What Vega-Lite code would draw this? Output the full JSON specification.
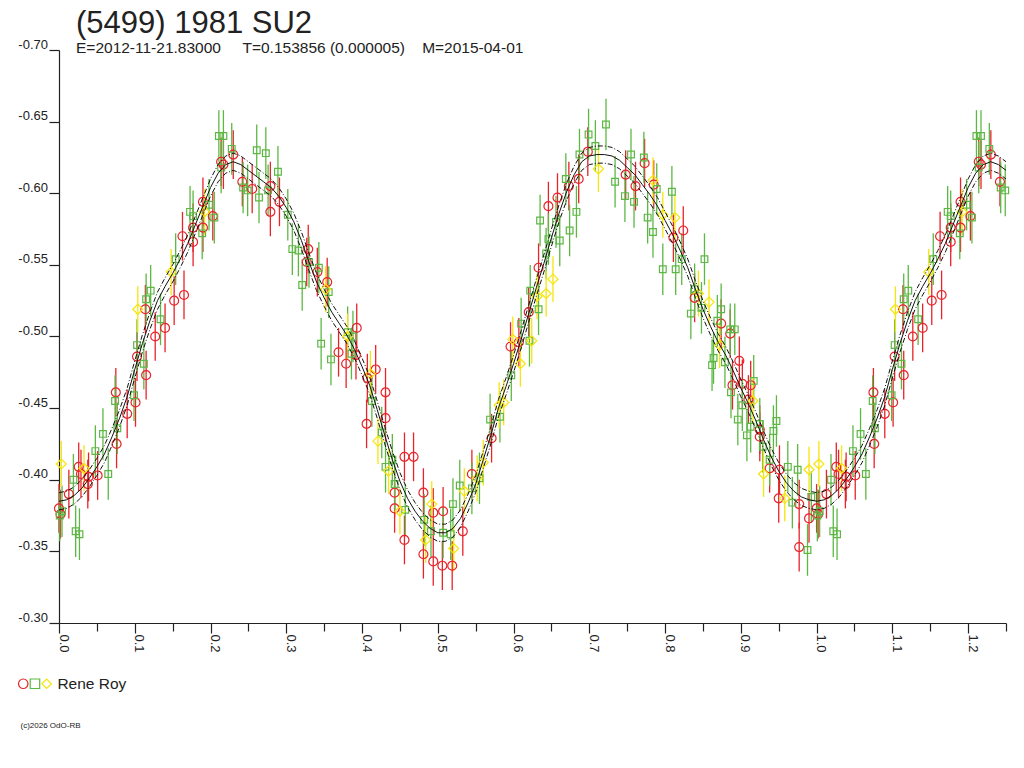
{
  "$schema": "https://vega.github.io/schema/vega-lite/v6.json",
  "autosize": "none",
  "width": 947,
  "height": 573,
  "padding": {"left": 59, "top": 50, "right": 18, "bottom": 145},
  "background": "white",
  "config": {"view": {"stroke": null}},
  "title": {
    "text": "(5499) 1981 SU2",
    "subtitle": "E=2012-11-21.83000\u00a0\u00a0\u00a0\u00a0\u00a0T=0.153856 (0.000005)\u00a0\u00a0\u00a0\u00a0M=2015-04-01",
    "anchor": "start",
    "frame": "group",
    "dx": 17,
    "offset": -19,
    "font": "Liberation Sans",
    "fontSize": 31,
    "fontWeight": "normal",
    "color": "#222222",
    "subtitleFont": "Liberation Sans",
    "subtitleFontSize": 15.5,
    "subtitleColor": "#222222",
    "subtitlePadding": 1
  },
  "datasets": {
    "pts": [
      {"p":0.103,"m":-0.486,"e":0.017,"s":"r"},{"p":0.115,"m":-0.473,"e":0.017,"s":"r"},{"p":0.075,"m":-0.461,"e":0.017,"s":"r"},{"p":0.101,"m":-0.454,"e":0.017,"s":"r"},
      {"p":0.090,"m":-0.446,"e":0.017,"s":"r"},{"p":0.076,"m":-0.425,"e":0.017,"s":"r"},{"p":0.026,"m":-0.409,"e":0.017,"s":"r"},{"p":0.051,"m":-0.403,"e":0.017,"s":"r"},
      {"p":0.039,"m":-0.402,"e":0.017,"s":"r"},{"p":0.029,"m":-0.404,"e":0.017,"s":"r"},{"p":0.038,"m":-0.397,"e":0.017,"s":"r"},{"p":0.013,"m":-0.390,"e":0.017,"s":"r"},
      {"p":0.000,"m":-0.380,"e":0.017,"s":"r"},{"p":0.002,"m":-0.376,"e":0.017,"s":"r"},{"p":0.214,"m":-0.622,"e":0.017,"s":"r"},{"p":0.217,"m":-0.620,"e":0.017,"s":"r"},
      {"p":0.230,"m":-0.627,"e":0.017,"s":"r"},{"p":0.242,"m":-0.608,"e":0.017,"s":"r"},{"p":0.255,"m":-0.603,"e":0.017,"s":"r"},{"p":0.279,"m":-0.605,"e":0.017,"s":"r"},
      {"p":0.291,"m":-0.594,"e":0.017,"s":"r"},{"p":0.279,"m":-0.587,"e":0.017,"s":"r"},{"p":0.190,"m":-0.594,"e":0.017,"s":"r"},{"p":0.203,"m":-0.584,"e":0.017,"s":"r"},
      {"p":0.177,"m":-0.576,"e":0.017,"s":"r"},{"p":0.190,"m":-0.576,"e":0.017,"s":"r"},{"p":0.177,"m":-0.566,"e":0.017,"s":"r"},{"p":0.163,"m":-0.570,"e":0.017,"s":"r"},
      {"p":0.152,"m":-0.525,"e":0.017,"s":"r"},{"p":0.165,"m":-0.529,"e":0.017,"s":"r"},{"p":0.114,"m":-0.519,"e":0.017,"s":"r"},{"p":0.140,"m":-0.506,"e":0.017,"s":"r"},
      {"p":0.127,"m":-0.500,"e":0.017,"s":"r"},{"p":0.327,"m":-0.552,"e":0.017,"s":"r"},{"p":0.329,"m":-0.561,"e":0.017,"s":"r"},{"p":0.341,"m":-0.545,"e":0.017,"s":"r"},
      {"p":0.354,"m":-0.538,"e":0.017,"s":"r"},{"p":0.369,"m":-0.489,"e":0.017,"s":"r"},{"p":0.379,"m":-0.481,"e":0.017,"s":"r"},{"p":0.393,"m":-0.506,"e":0.017,"s":"r"},
      {"p":0.392,"m":-0.487,"e":0.017,"s":"r"},{"p":0.407,"m":-0.471,"e":0.017,"s":"r"},{"p":0.418,"m":-0.477,"e":0.017,"s":"r"},{"p":0.431,"m":-0.461,"e":0.017,"s":"r"},
      {"p":0.431,"m":-0.443,"e":0.017,"s":"r"},{"p":0.406,"m":-0.439,"e":0.017,"s":"r"},{"p":0.456,"m":-0.416,"e":0.017,"s":"r"},{"p":0.468,"m":-0.416,"e":0.017,"s":"r"},
      {"p":0.443,"m":-0.391,"e":0.017,"s":"r"},{"p":0.443,"m":-0.380,"e":0.017,"s":"r"},{"p":0.456,"m":-0.358,"e":0.017,"s":"r"},{"p":0.481,"m":-0.391,"e":0.017,"s":"r"},
      {"p":0.481,"m":-0.348,"e":0.017,"s":"r"},{"p":0.494,"m":-0.343,"e":0.017,"s":"r"},{"p":0.494,"m":-0.377,"e":0.017,"s":"r"},{"p":0.507,"m":-0.378,"e":0.017,"s":"r"},
      {"p":0.506,"m":-0.340,"e":0.017,"s":"r"},{"p":0.519,"m":-0.340,"e":0.017,"s":"r"},{"p":0.533,"m":-0.364,"e":0.017,"s":"r"},{"p":0.545,"m":-0.404,"e":0.017,"s":"r"},
      {"p":0.571,"m":-0.429,"e":0.017,"s":"r"},{"p":0.596,"m":-0.493,"e":0.017,"s":"r"},{"p":0.607,"m":-0.496,"e":0.017,"s":"r"},{"p":0.620,"m":-0.517,"e":0.017,"s":"r"},
      {"p":0.633,"m":-0.548,"e":0.017,"s":"r"},{"p":0.646,"m":-0.591,"e":0.017,"s":"r"},{"p":0.698,"m":-0.629,"e":0.017,"s":"r"},{"p":0.686,"m":-0.610,"e":0.017,"s":"r"},
      {"p":0.673,"m":-0.605,"e":0.017,"s":"r"},{"p":0.658,"m":-0.597,"e":0.017,"s":"r"},{"p":0.773,"m":-0.621,"e":0.017,"s":"r"},{"p":0.748,"m":-0.613,"e":0.017,"s":"r"},
      {"p":0.761,"m":-0.605,"e":0.017,"s":"r"},{"p":0.785,"m":-0.606,"e":0.017,"s":"r"},{"p":0.824,"m":-0.574,"e":0.017,"s":"r"},{"p":0.811,"m":-0.569,"e":0.017,"s":"r"},
      {"p":0.839,"m":-0.527,"e":0.017,"s":"r"},{"p":0.874,"m":-0.509,"e":0.017,"s":"r"},{"p":0.886,"m":-0.502,"e":0.017,"s":"r"},{"p":0.898,"m":-0.483,"e":0.017,"s":"r"},
      {"p":0.889,"m":-0.466,"e":0.017,"s":"r"},{"p":0.902,"m":-0.467,"e":0.017,"s":"r"},{"p":0.913,"m":-0.466,"e":0.017,"s":"r"},{"p":0.910,"m":-0.456,"e":0.017,"s":"r"},
      {"p":0.925,"m":-0.435,"e":0.017,"s":"r"},{"p":0.925,"m":-0.430,"e":0.017,"s":"r"},{"p":0.938,"m":-0.408,"e":0.017,"s":"r"},{"p":0.951,"m":-0.407,"e":0.017,"s":"r"},
      {"p":0.950,"m":-0.387,"e":0.017,"s":"r"},{"p":0.977,"m":-0.383,"e":0.017,"s":"r"},{"p":0.977,"m":-0.353,"e":0.017,"s":"r"},{"p":0.990,"m":-0.373,"e":0.017,"s":"r"},
      {"p":1.103,"m":-0.486,"e":0.017,"s":"r"},{"p":1.115,"m":-0.473,"e":0.017,"s":"r"},{"p":1.075,"m":-0.461,"e":0.017,"s":"r"},{"p":1.101,"m":-0.454,"e":0.017,"s":"r"},
      {"p":1.090,"m":-0.446,"e":0.017,"s":"r"},{"p":1.076,"m":-0.425,"e":0.017,"s":"r"},{"p":1.026,"m":-0.409,"e":0.017,"s":"r"},{"p":1.051,"m":-0.403,"e":0.017,"s":"r"},
      {"p":1.039,"m":-0.402,"e":0.017,"s":"r"},{"p":1.029,"m":-0.404,"e":0.017,"s":"r"},{"p":1.038,"m":-0.397,"e":0.017,"s":"r"},{"p":1.013,"m":-0.390,"e":0.017,"s":"r"},
      {"p":1.000,"m":-0.380,"e":0.017,"s":"r"},{"p":1.002,"m":-0.376,"e":0.017,"s":"r"},{"p":1.214,"m":-0.622,"e":0.017,"s":"r"},{"p":1.217,"m":-0.620,"e":0.017,"s":"r"},
      {"p":1.230,"m":-0.627,"e":0.017,"s":"r"},{"p":1.242,"m":-0.608,"e":0.017,"s":"r"},{"p":1.190,"m":-0.594,"e":0.017,"s":"r"},{"p":1.203,"m":-0.584,"e":0.017,"s":"r"},
      {"p":1.177,"m":-0.576,"e":0.017,"s":"r"},{"p":1.190,"m":-0.576,"e":0.017,"s":"r"},{"p":1.177,"m":-0.566,"e":0.017,"s":"r"},{"p":1.163,"m":-0.570,"e":0.017,"s":"r"},
      {"p":1.152,"m":-0.525,"e":0.017,"s":"r"},{"p":1.165,"m":-0.529,"e":0.017,"s":"r"},{"p":1.114,"m":-0.519,"e":0.017,"s":"r"},{"p":1.140,"m":-0.506,"e":0.017,"s":"r"},
      {"p":1.127,"m":-0.500,"e":0.017,"s":"r"},

      {"p":0.103,"m":-0.494,"e":0.018,"s":"g"},{"p":0.112,"m":-0.481,"e":0.018,"s":"g"},{"p":0.099,"m":-0.459,"e":0.018,"s":"g"},{"p":0.074,"m":-0.455,"e":0.018,"s":"g"},
      {"p":0.077,"m":-0.436,"e":0.018,"s":"g"},{"p":0.058,"m":-0.432,"e":0.018,"s":"g"},{"p":0.048,"m":-0.420,"e":0.018,"s":"g"},{"p":0.065,"m":-0.404,"e":0.018,"s":"g"},
      {"p":0.019,"m":-0.400,"e":0.018,"s":"g"},{"p":0.004,"m":-0.378,"e":0.018,"s":"g"},{"p":0.001,"m":-0.375,"e":0.018,"s":"g"},{"p":0.022,"m":-0.364,"e":0.018,"s":"g"},
      {"p":0.027,"m":-0.362,"e":0.018,"s":"g"},{"p":0.211,"m":-0.640,"e":0.018,"s":"g"},{"p":0.217,"m":-0.640,"e":0.018,"s":"g"},{"p":0.228,"m":-0.631,"e":0.018,"s":"g"},
      {"p":0.214,"m":-0.618,"e":0.018,"s":"g"},{"p":0.261,"m":-0.630,"e":0.018,"s":"g"},{"p":0.273,"m":-0.628,"e":0.018,"s":"g"},{"p":0.289,"m":-0.615,"e":0.018,"s":"g"},
      {"p":0.243,"m":-0.604,"e":0.018,"s":"g"},{"p":0.249,"m":-0.602,"e":0.018,"s":"g"},{"p":0.264,"m":-0.597,"e":0.018,"s":"g"},{"p":0.276,"m":-0.602,"e":0.018,"s":"g"},
      {"p":0.302,"m":-0.585,"e":0.018,"s":"g"},{"p":0.308,"m":-0.561,"e":0.018,"s":"g"},{"p":0.316,"m":-0.560,"e":0.018,"s":"g"},{"p":0.321,"m":-0.536,"e":0.018,"s":"g"},
      {"p":0.173,"m":-0.587,"e":0.018,"s":"g"},{"p":0.177,"m":-0.584,"e":0.018,"s":"g"},{"p":0.198,"m":-0.592,"e":0.018,"s":"g"},{"p":0.205,"m":-0.583,"e":0.018,"s":"g"},
      {"p":0.189,"m":-0.572,"e":0.018,"s":"g"},{"p":0.154,"m":-0.554,"e":0.018,"s":"g"},{"p":0.121,"m":-0.532,"e":0.018,"s":"g"},{"p":0.115,"m":-0.526,"e":0.018,"s":"g"},
      {"p":0.134,"m":-0.512,"e":0.018,"s":"g"},{"p":0.330,"m":-0.552,"e":0.018,"s":"g"},{"p":0.343,"m":-0.548,"e":0.018,"s":"g"},{"p":0.356,"m":-0.531,"e":0.018,"s":"g"},
      {"p":0.346,"m":-0.495,"e":0.018,"s":"g"},{"p":0.359,"m":-0.484,"e":0.018,"s":"g"},{"p":0.381,"m":-0.503,"e":0.018,"s":"g"},{"p":0.388,"m":-0.500,"e":0.018,"s":"g"},
      {"p":0.386,"m":-0.488,"e":0.018,"s":"g"},{"p":0.413,"m":-0.455,"e":0.018,"s":"g"},{"p":0.426,"m":-0.433,"e":0.018,"s":"g"},{"p":0.431,"m":-0.409,"e":0.018,"s":"g"},
      {"p":0.440,"m":-0.414,"e":0.018,"s":"g"},{"p":0.443,"m":-0.397,"e":0.018,"s":"g"},{"p":0.457,"m":-0.379,"e":0.018,"s":"g"},{"p":0.482,"m":-0.372,"e":0.018,"s":"g"},
      {"p":0.491,"m":-0.364,"e":0.018,"s":"g"},{"p":0.507,"m":-0.363,"e":0.018,"s":"g"},{"p":0.517,"m":-0.362,"e":0.018,"s":"g"},{"p":0.520,"m":-0.383,"e":0.018,"s":"g"},
      {"p":0.529,"m":-0.396,"e":0.018,"s":"g"},{"p":0.545,"m":-0.394,"e":0.018,"s":"g"},{"p":0.555,"m":-0.401,"e":0.018,"s":"g"},{"p":0.569,"m":-0.442,"e":0.018,"s":"g"},
      {"p":0.582,"m":-0.444,"e":0.018,"s":"g"},{"p":0.597,"m":-0.473,"e":0.018,"s":"g"},{"p":0.610,"m":-0.509,"e":0.018,"s":"g"},{"p":0.622,"m":-0.532,"e":0.018,"s":"g"},
      {"p":0.633,"m":-0.519,"e":0.018,"s":"g"},{"p":0.621,"m":-0.497,"e":0.018,"s":"g"},{"p":0.635,"m":-0.581,"e":0.018,"s":"g"},{"p":0.646,"m":-0.568,"e":0.018,"s":"g"},
      {"p":0.643,"m":-0.558,"e":0.018,"s":"g"},{"p":0.722,"m":-0.648,"e":0.018,"s":"g"},{"p":0.699,"m":-0.641,"e":0.018,"s":"g"},{"p":0.708,"m":-0.633,"e":0.018,"s":"g"},
      {"p":0.687,"m":-0.627,"e":0.018,"s":"g"},{"p":0.755,"m":-0.627,"e":0.018,"s":"g"},{"p":0.772,"m":-0.625,"e":0.018,"s":"g"},{"p":0.669,"m":-0.610,"e":0.018,"s":"g"},
      {"p":0.734,"m":-0.608,"e":0.018,"s":"g"},{"p":0.789,"m":-0.603,"e":0.018,"s":"g"},{"p":0.809,"m":-0.601,"e":0.018,"s":"g"},{"p":0.747,"m":-0.598,"e":0.018,"s":"g"},
      {"p":0.759,"m":-0.594,"e":0.018,"s":"g"},{"p":0.683,"m":-0.587,"e":0.018,"s":"g"},{"p":0.656,"m":-0.580,"e":0.018,"s":"g"},{"p":0.777,"m":-0.583,"e":0.018,"s":"g"},
      {"p":0.674,"m":-0.574,"e":0.018,"s":"g"},{"p":0.784,"m":-0.573,"e":0.018,"s":"g"},{"p":0.661,"m":-0.567,"e":0.018,"s":"g"},{"p":0.822,"m":-0.554,"e":0.018,"s":"g"},
      {"p":0.852,"m":-0.554,"e":0.018,"s":"g"},{"p":0.797,"m":-0.547,"e":0.018,"s":"g"},{"p":0.814,"m":-0.547,"e":0.018,"s":"g"},{"p":0.839,"m":-0.533,"e":0.018,"s":"g"},
      {"p":0.834,"m":-0.516,"e":0.018,"s":"g"},{"p":0.848,"m":-0.520,"e":0.018,"s":"g"},{"p":0.874,"m":-0.519,"e":0.018,"s":"g"},{"p":0.869,"m":-0.511,"e":0.018,"s":"g"},
      {"p":0.886,"m":-0.505,"e":0.018,"s":"g"},{"p":0.892,"m":-0.505,"e":0.018,"s":"g"},{"p":0.864,"m":-0.485,"e":0.018,"s":"g"},{"p":0.862,"m":-0.480,"e":0.018,"s":"g"},
      {"p":0.879,"m":-0.482,"e":0.018,"s":"g"},{"p":0.917,"m":-0.469,"e":0.018,"s":"g"},{"p":0.887,"m":-0.461,"e":0.018,"s":"g"},{"p":0.896,"m":-0.442,"e":0.018,"s":"g"},
      {"p":0.902,"m":-0.452,"e":0.018,"s":"g"},{"p":0.908,"m":-0.431,"e":0.018,"s":"g"},{"p":0.913,"m":-0.437,"e":0.018,"s":"g"},{"p":0.925,"m":-0.439,"e":0.018,"s":"g"},
      {"p":0.929,"m":-0.423,"e":0.018,"s":"g"},{"p":0.943,"m":-0.434,"e":0.018,"s":"g"},{"p":0.947,"m":-0.441,"e":0.018,"s":"g"},{"p":0.938,"m":-0.414,"e":0.018,"s":"g"},
      {"p":0.962,"m":-0.409,"e":0.018,"s":"g"},{"p":0.975,"m":-0.407,"e":0.018,"s":"g"},{"p":0.968,"m":-0.384,"e":0.018,"s":"g"},{"p":0.993,"m":-0.388,"e":0.018,"s":"g"},
      {"p":0.988,"m":-0.351,"e":0.018,"s":"g"},
      {"p":1.103,"m":-0.494,"e":0.018,"s":"g"},{"p":1.112,"m":-0.481,"e":0.018,"s":"g"},{"p":1.099,"m":-0.459,"e":0.018,"s":"g"},{"p":1.074,"m":-0.455,"e":0.018,"s":"g"},
      {"p":1.077,"m":-0.436,"e":0.018,"s":"g"},{"p":1.058,"m":-0.432,"e":0.018,"s":"g"},{"p":1.048,"m":-0.420,"e":0.018,"s":"g"},{"p":1.065,"m":-0.404,"e":0.018,"s":"g"},
      {"p":1.019,"m":-0.400,"e":0.018,"s":"g"},{"p":1.004,"m":-0.378,"e":0.018,"s":"g"},{"p":1.001,"m":-0.375,"e":0.018,"s":"g"},{"p":1.022,"m":-0.364,"e":0.018,"s":"g"},
      {"p":1.027,"m":-0.362,"e":0.018,"s":"g"},{"p":1.211,"m":-0.640,"e":0.018,"s":"g"},{"p":1.217,"m":-0.640,"e":0.018,"s":"g"},{"p":1.228,"m":-0.631,"e":0.018,"s":"g"},
      {"p":1.214,"m":-0.618,"e":0.018,"s":"g"},{"p":1.243,"m":-0.604,"e":0.018,"s":"g"},{"p":1.249,"m":-0.602,"e":0.018,"s":"g"},{"p":1.173,"m":-0.587,"e":0.018,"s":"g"},
      {"p":1.177,"m":-0.584,"e":0.018,"s":"g"},{"p":1.198,"m":-0.592,"e":0.018,"s":"g"},{"p":1.205,"m":-0.583,"e":0.018,"s":"g"},{"p":1.189,"m":-0.572,"e":0.018,"s":"g"},
      {"p":1.154,"m":-0.554,"e":0.018,"s":"g"},{"p":1.121,"m":-0.532,"e":0.018,"s":"g"},{"p":1.115,"m":-0.526,"e":0.018,"s":"g"},{"p":1.134,"m":-0.512,"e":0.018,"s":"g"},

      {"p":0.003,"m":-0.411,"e":0.016,"s":"y"},{"p":0.033,"m":-0.408,"e":0.016,"s":"y"},{"p":0.104,"m":-0.519,"e":0.016,"s":"y"},{"p":0.148,"m":-0.545,"e":0.016,"s":"y"},
      {"p":0.192,"m":-0.587,"e":0.016,"s":"y"},{"p":0.352,"m":-0.533,"e":0.016,"s":"y"},{"p":0.381,"m":-0.500,"e":0.016,"s":"y"},{"p":0.411,"m":-0.474,"e":0.016,"s":"y"},
      {"p":0.421,"m":-0.427,"e":0.016,"s":"y"},{"p":0.435,"m":-0.406,"e":0.016,"s":"y"},{"p":0.450,"m":-0.378,"e":0.016,"s":"y"},{"p":0.484,"m":-0.358,"e":0.016,"s":"y"},
      {"p":0.492,"m":-0.383,"e":0.016,"s":"y"},{"p":0.521,"m":-0.352,"e":0.016,"s":"y"},{"p":0.535,"m":-0.392,"e":0.016,"s":"y"},{"p":0.552,"m":-0.401,"e":0.016,"s":"y"},
      {"p":0.560,"m":-0.412,"e":0.016,"s":"y"},{"p":0.587,"m":-0.454,"e":0.016,"s":"y"},{"p":0.581,"m":-0.452,"e":0.016,"s":"y"},{"p":0.609,"m":-0.481,"e":0.016,"s":"y"},
      {"p":0.599,"m":-0.498,"e":0.016,"s":"y"},{"p":0.624,"m":-0.497,"e":0.016,"s":"y"},{"p":0.631,"m":-0.528,"e":0.016,"s":"y"},{"p":0.643,"m":-0.530,"e":0.016,"s":"y"},
      {"p":0.712,"m":-0.617,"e":0.016,"s":"y"},{"p":0.784,"m":-0.609,"e":0.016,"s":"y"},{"p":0.797,"m":-0.585,"e":0.016,"s":"y"},{"p":0.813,"m":-0.583,"e":0.016,"s":"y"},
      {"p":0.652,"m":-0.540,"e":0.016,"s":"y"},{"p":0.844,"m":-0.530,"e":0.016,"s":"y"},{"p":0.858,"m":-0.524,"e":0.016,"s":"y"},{"p":0.872,"m":-0.494,"e":0.016,"s":"y"},
      {"p":0.916,"m":-0.455,"e":0.016,"s":"y"},{"p":0.930,"m":-0.404,"e":0.016,"s":"y"},{"p":0.958,"m":-0.387,"e":0.016,"s":"y"},{"p":0.990,"m":-0.407,"e":0.016,"s":"y"},
      {"p":1.003,"m":-0.411,"e":0.016,"s":"y"},{"p":1.033,"m":-0.408,"e":0.016,"s":"y"},{"p":1.104,"m":-0.519,"e":0.016,"s":"y"},{"p":1.148,"m":-0.545,"e":0.016,"s":"y"},
      {"p":1.192,"m":-0.587,"e":0.016,"s":"y"}
    ],
    "fit": [
      {"p":0.00,"m":-0.385,"up":-0.391,"dn":-0.379},{"p":0.01,"m":-0.386,"up":-0.392,"dn":-0.380},{"p":0.02,"m":-0.389,"up":-0.395,"dn":-0.383},
      {"p":0.03,"m":-0.394,"up":-0.400,"dn":-0.388},{"p":0.04,"m":-0.401,"up":-0.407,"dn":-0.395},{"p":0.05,"m":-0.409,"up":-0.415,"dn":-0.403},
      {"p":0.06,"m":-0.418,"up":-0.424,"dn":-0.412},{"p":0.07,"m":-0.430,"up":-0.436,"dn":-0.424},{"p":0.08,"m":-0.443,"up":-0.449,"dn":-0.437},
      {"p":0.09,"m":-0.458,"up":-0.464,"dn":-0.452},{"p":0.10,"m":-0.477,"up":-0.483,"dn":-0.471},{"p":0.11,"m":-0.495,"up":-0.501,"dn":-0.489},
      {"p":0.12,"m":-0.511,"up":-0.517,"dn":-0.505},{"p":0.13,"m":-0.525,"up":-0.531,"dn":-0.519},{"p":0.14,"m":-0.535,"up":-0.541,"dn":-0.529},
      {"p":0.15,"m":-0.544,"up":-0.550,"dn":-0.538},{"p":0.16,"m":-0.554,"up":-0.560,"dn":-0.548},{"p":0.17,"m":-0.565,"up":-0.571,"dn":-0.559},
      {"p":0.18,"m":-0.578,"up":-0.584,"dn":-0.572},{"p":0.19,"m":-0.591,"up":-0.597,"dn":-0.585},{"p":0.20,"m":-0.604,"up":-0.610,"dn":-0.598},
      {"p":0.21,"m":-0.614,"up":-0.620,"dn":-0.608},{"p":0.22,"m":-0.620,"up":-0.626,"dn":-0.614},{"p":0.23,"m":-0.622,"up":-0.628,"dn":-0.616},
      {"p":0.24,"m":-0.620,"up":-0.626,"dn":-0.614},{"p":0.25,"m":-0.616,"up":-0.622,"dn":-0.610},{"p":0.26,"m":-0.612,"up":-0.618,"dn":-0.606},
      {"p":0.27,"m":-0.608,"up":-0.614,"dn":-0.602},{"p":0.28,"m":-0.604,"up":-0.610,"dn":-0.598},{"p":0.29,"m":-0.598,"up":-0.604,"dn":-0.592},
      {"p":0.30,"m":-0.590,"up":-0.596,"dn":-0.584},{"p":0.31,"m":-0.580,"up":-0.586,"dn":-0.574},{"p":0.32,"m":-0.567,"up":-0.573,"dn":-0.561},
      {"p":0.33,"m":-0.552,"up":-0.558,"dn":-0.546},{"p":0.34,"m":-0.538,"up":-0.544,"dn":-0.532},{"p":0.35,"m":-0.527,"up":-0.533,"dn":-0.521},
      {"p":0.36,"m":-0.517,"up":-0.523,"dn":-0.511},{"p":0.37,"m":-0.509,"up":-0.515,"dn":-0.503},{"p":0.38,"m":-0.501,"up":-0.507,"dn":-0.495},
      {"p":0.39,"m":-0.491,"up":-0.497,"dn":-0.485},{"p":0.40,"m":-0.479,"up":-0.485,"dn":-0.473},{"p":0.41,"m":-0.466,"up":-0.472,"dn":-0.460},
      {"p":0.42,"m":-0.449,"up":-0.455,"dn":-0.443},{"p":0.43,"m":-0.431,"up":-0.437,"dn":-0.425},{"p":0.44,"m":-0.414,"up":-0.420,"dn":-0.408},
      {"p":0.45,"m":-0.399,"up":-0.405,"dn":-0.393},{"p":0.46,"m":-0.387,"up":-0.393,"dn":-0.381},{"p":0.47,"m":-0.378,"up":-0.384,"dn":-0.372},
      {"p":0.48,"m":-0.371,"up":-0.377,"dn":-0.365},{"p":0.49,"m":-0.366,"up":-0.372,"dn":-0.360},{"p":0.50,"m":-0.363,"up":-0.369,"dn":-0.357},
      {"p":0.51,"m":-0.363,"up":-0.369,"dn":-0.357},{"p":0.52,"m":-0.366,"up":-0.372,"dn":-0.360},{"p":0.53,"m":-0.373,"up":-0.379,"dn":-0.367},
      {"p":0.54,"m":-0.384,"up":-0.390,"dn":-0.378},{"p":0.55,"m":-0.397,"up":-0.403,"dn":-0.391},{"p":0.56,"m":-0.414,"up":-0.420,"dn":-0.408},
      {"p":0.57,"m":-0.431,"up":-0.437,"dn":-0.425},{"p":0.58,"m":-0.450,"up":-0.456,"dn":-0.444},{"p":0.59,"m":-0.465,"up":-0.471,"dn":-0.459},
      {"p":0.60,"m":-0.481,"up":-0.487,"dn":-0.475},{"p":0.61,"m":-0.498,"up":-0.504,"dn":-0.492},{"p":0.62,"m":-0.516,"up":-0.522,"dn":-0.510},
      {"p":0.63,"m":-0.534,"up":-0.540,"dn":-0.528},{"p":0.64,"m":-0.551,"up":-0.557,"dn":-0.545},{"p":0.65,"m":-0.569,"up":-0.575,"dn":-0.563},
      {"p":0.66,"m":-0.586,"up":-0.592,"dn":-0.580},{"p":0.67,"m":-0.601,"up":-0.607,"dn":-0.595},{"p":0.68,"m":-0.613,"up":-0.619,"dn":-0.607},
      {"p":0.69,"m":-0.622,"up":-0.628,"dn":-0.616},{"p":0.70,"m":-0.626,"up":-0.632,"dn":-0.620},{"p":0.71,"m":-0.627,"up":-0.633,"dn":-0.621},
      {"p":0.72,"m":-0.627,"up":-0.633,"dn":-0.621},{"p":0.73,"m":-0.626,"up":-0.632,"dn":-0.620},{"p":0.74,"m":-0.623,"up":-0.629,"dn":-0.617},
      {"p":0.75,"m":-0.618,"up":-0.624,"dn":-0.612},{"p":0.76,"m":-0.613,"up":-0.619,"dn":-0.607},{"p":0.77,"m":-0.606,"up":-0.612,"dn":-0.600},
      {"p":0.78,"m":-0.599,"up":-0.605,"dn":-0.593},{"p":0.79,"m":-0.591,"up":-0.597,"dn":-0.585},{"p":0.80,"m":-0.581,"up":-0.587,"dn":-0.575},
      {"p":0.81,"m":-0.571,"up":-0.577,"dn":-0.565},{"p":0.82,"m":-0.560,"up":-0.566,"dn":-0.554},{"p":0.83,"m":-0.548,"up":-0.554,"dn":-0.542},
      {"p":0.84,"m":-0.533,"up":-0.539,"dn":-0.527},{"p":0.85,"m":-0.519,"up":-0.525,"dn":-0.513},{"p":0.86,"m":-0.507,"up":-0.513,"dn":-0.501},
      {"p":0.87,"m":-0.496,"up":-0.502,"dn":-0.490},{"p":0.88,"m":-0.487,"up":-0.493,"dn":-0.481},{"p":0.89,"m":-0.476,"up":-0.482,"dn":-0.470},
      {"p":0.90,"m":-0.464,"up":-0.470,"dn":-0.458},{"p":0.91,"m":-0.453,"up":-0.459,"dn":-0.447},{"p":0.92,"m":-0.441,"up":-0.447,"dn":-0.435},
      {"p":0.93,"m":-0.428,"up":-0.434,"dn":-0.422},{"p":0.94,"m":-0.416,"up":-0.422,"dn":-0.410},{"p":0.95,"m":-0.406,"up":-0.412,"dn":-0.400},
      {"p":0.96,"m":-0.398,"up":-0.404,"dn":-0.392},{"p":0.97,"m":-0.392,"up":-0.398,"dn":-0.386},{"p":0.98,"m":-0.388,"up":-0.394,"dn":-0.382},
      {"p":0.99,"m":-0.386,"up":-0.392,"dn":-0.380},{"p":1.00,"m":-0.385,"up":-0.391,"dn":-0.379},{"p":1.01,"m":-0.386,"up":-0.392,"dn":-0.380},
      {"p":1.02,"m":-0.389,"up":-0.395,"dn":-0.383},{"p":1.03,"m":-0.394,"up":-0.400,"dn":-0.388},{"p":1.04,"m":-0.401,"up":-0.407,"dn":-0.395},
      {"p":1.05,"m":-0.409,"up":-0.415,"dn":-0.403},{"p":1.06,"m":-0.418,"up":-0.424,"dn":-0.412},{"p":1.07,"m":-0.430,"up":-0.436,"dn":-0.424},
      {"p":1.08,"m":-0.443,"up":-0.449,"dn":-0.437},{"p":1.09,"m":-0.458,"up":-0.464,"dn":-0.452},{"p":1.10,"m":-0.477,"up":-0.483,"dn":-0.471},
      {"p":1.11,"m":-0.495,"up":-0.501,"dn":-0.489},{"p":1.12,"m":-0.511,"up":-0.517,"dn":-0.505},{"p":1.13,"m":-0.525,"up":-0.531,"dn":-0.519},
      {"p":1.14,"m":-0.535,"up":-0.541,"dn":-0.529},{"p":1.15,"m":-0.544,"up":-0.550,"dn":-0.538},{"p":1.16,"m":-0.554,"up":-0.560,"dn":-0.548},
      {"p":1.17,"m":-0.565,"up":-0.571,"dn":-0.559},{"p":1.18,"m":-0.578,"up":-0.584,"dn":-0.572},{"p":1.19,"m":-0.591,"up":-0.597,"dn":-0.585},
      {"p":1.20,"m":-0.604,"up":-0.610,"dn":-0.598},{"p":1.21,"m":-0.614,"up":-0.620,"dn":-0.608},{"p":1.22,"m":-0.620,"up":-0.626,"dn":-0.614},
      {"p":1.23,"m":-0.622,"up":-0.628,"dn":-0.616},{"p":1.24,"m":-0.620,"up":-0.626,"dn":-0.614},{"p":1.25,"m":-0.616,"up":-0.622,"dn":-0.610}
    ]
  },
  "encoding": {
    "x": {
      "field": "p",
      "type": "quantitative",
      "scale": {"domain": [0, 1.25], "nice": false, "zero": false},
      "axis": {
        "values": [0, 0.05, 0.1, 0.15, 0.2, 0.25, 0.3, 0.35, 0.4, 0.45, 0.5, 0.55, 0.6, 0.65, 0.7, 0.75, 0.8, 0.85, 0.9, 0.95, 1.0, 1.05, 1.1, 1.15, 1.2, 1.25],
        "labelExpr": "round(datum.value * 100) % 10 === 0 ? format(datum.value, '.1f') : ''",
        "tickSize": {"condition": {"test": "round(datum.value * 100) % 10 === 0", "value": 10}, "value": 8},
        "labelAngle": 90,
        "labelAlign": "left",
        "labelBaseline": "alphabetic",
        "labelPadding": 1,
        "labelFont": "Liberation Sans",
        "labelFontSize": 13,
        "labelColor": "#222222",
        "labelOverlap": false,
        "labelFlush": false,
        "tickColor": "#222222",
        "tickWidth": 1.2,
        "domainColor": "#222222",
        "domainWidth": 1.2,
        "grid": false,
        "title": "(c)2026 OdO-RB",
        "titleFont": "Liberation Sans",
        "titleFontSize": 8,
        "titleFontWeight": "normal",
        "titleColor": "#222222",
        "titleAlign": "left",
        "titleBaseline": "alphabetic",
        "titleAngle": 0,
        "titleX": -39,
        "titleY": 104
      }
    },
    "y": {
      "field": "m",
      "type": "quantitative",
      "scale": {"domain": [-0.7, -0.3], "reverse": true, "nice": false, "zero": false},
      "axis": {
        "values": [-0.7, -0.65, -0.6, -0.55, -0.5, -0.45, -0.4, -0.35, -0.3],
        "labelExpr": "replace(format(datum.value, '.2f'), '\u2212', '-')",
        "tickSize": 10,
        "labelPadding": 1.5,
        "labelBaseline": "alphabetic",
        "labelOffset": -2,
        "labelFont": "Liberation Sans",
        "labelFontSize": 13,
        "labelColor": "#222222",
        "labelOverlap": false,
        "labelFlush": false,
        "tickColor": "#222222",
        "tickWidth": 1.2,
        "domainColor": "#222222",
        "domainWidth": 1.2,
        "grid": false,
        "title": null
      }
    }
  },
  "layer": [
    {
      "data": {"name": "pts"},
      "transform": [{"filter": "datum.s === 'r'"}],
      "mark": {"type": "errorbar", "thickness": 1.3, "color": "#e8232a"},
      "encoding": {"yError": {"field": "e"}}
    },
    {
      "data": {"name": "pts"},
      "transform": [{"filter": "datum.s === 'g'"}],
      "mark": {"type": "errorbar", "thickness": 1.3, "color": "#5cb843"},
      "encoding": {"yError": {"field": "e"}}
    },
    {
      "data": {"name": "pts"},
      "transform": [{"filter": "datum.s === 'y'"}],
      "mark": {"type": "errorbar", "thickness": 1.3, "color": "#f5e50a"},
      "encoding": {"yError": {"field": "e"}}
    },
    {
      "data": {"name": "pts"},
      "mark": {"type": "point", "filled": false, "strokeWidth": 1.2, "opacity": 1},
      "encoding": {
        "color": {
          "field": "s",
          "type": "nominal",
          "scale": {"domain": ["r", "g", "y"], "range": ["#e8232a", "#5cb843", "#f5e50a"]},
          "legend": {
            "orient": "none", "legendX": -43.5, "legendY": 626, "direction": "horizontal", "title": null,
            "labelExpr": "datum.value === 'y' ? '\u00a0Rene Roy' : ''",
            "labelFont": "Liberation Sans", "labelFontSize": 15.5, "labelColor": "#222222",
            "symbolSize": 90, "symbolStrokeWidth": 1.2, "labelOffset": 3, "columnPadding": -7.3, "gridAlign": "none"
          }
        },
        "shape": {
          "field": "s",
          "type": "nominal",
          "scale": {"domain": ["r", "g", "y"], "range": ["circle", "square", "diamond"]},
          "legend": {
            "orient": "none", "legendX": -43.5, "legendY": 626, "direction": "horizontal", "title": null,
            "labelExpr": "datum.value === 'y' ? '\u00a0Rene Roy' : ''",
            "labelFont": "Liberation Sans", "labelFontSize": 15.5, "labelColor": "#222222",
            "symbolSize": 90, "symbolStrokeWidth": 1.2, "labelOffset": 3, "columnPadding": -7.3, "gridAlign": "none"
          }
        },
        "size": {
          "condition": [
            {"test": "datum.s === 'g'", "value": 45},
            {"test": "datum.s === 'y'", "value": 100}
          ],
          "value": 80
        }
      }
    },
    {
      "data": {"name": "fit"},
      "mark": {"type": "line", "color": "#111111", "strokeWidth": 1, "strokeDash": [5, 2, 1, 2]},
      "encoding": {"y": {"field": "up", "type": "quantitative"}}
    },
    {
      "data": {"name": "fit"},
      "mark": {"type": "line", "color": "#111111", "strokeWidth": 1, "strokeDash": [5, 2, 1, 2]},
      "encoding": {"y": {"field": "dn", "type": "quantitative"}}
    },
    {
      "data": {"name": "fit"},
      "mark": {"type": "line", "color": "#111111", "strokeWidth": 1},
      "encoding": {"y": {"field": "m", "type": "quantitative"}}
    }
  ]
}
